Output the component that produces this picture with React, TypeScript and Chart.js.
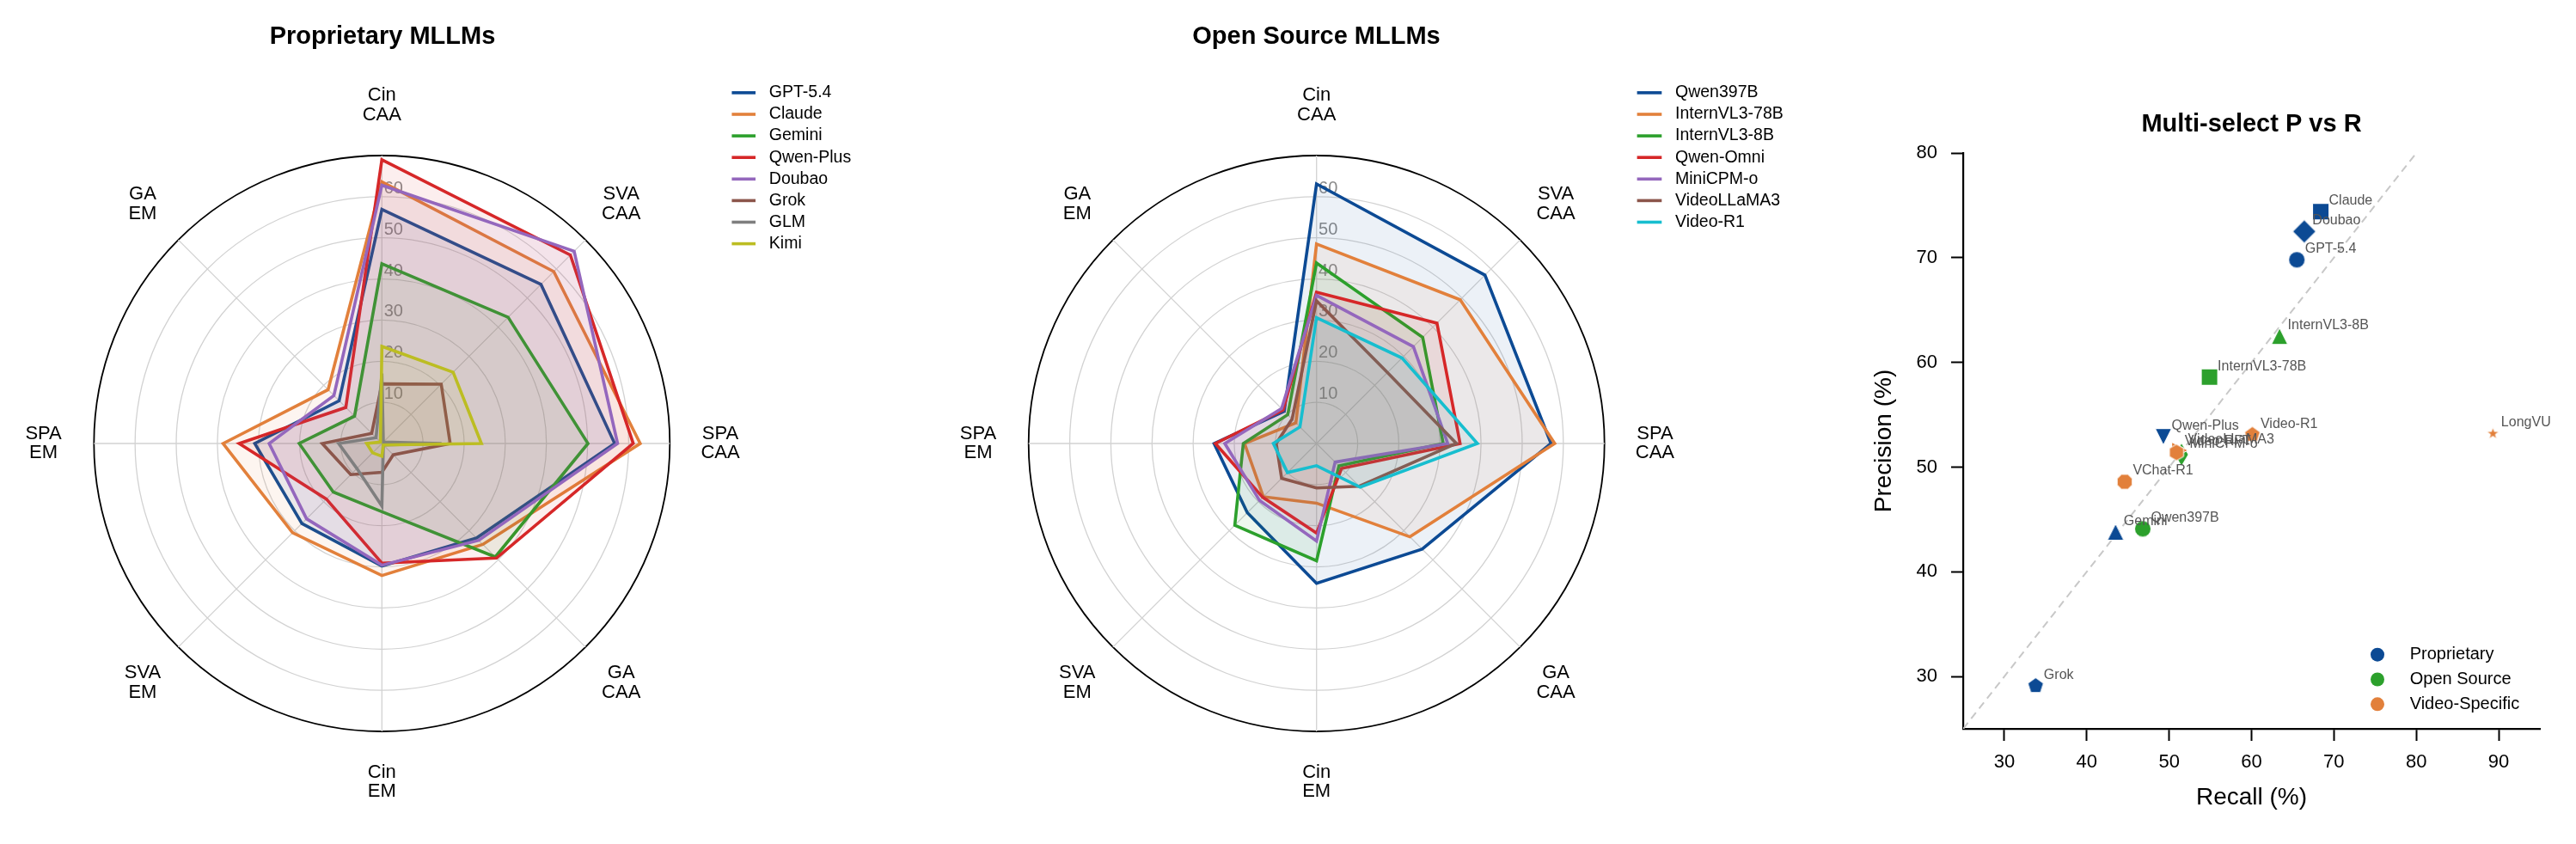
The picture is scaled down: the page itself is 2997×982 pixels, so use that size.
import React, { useEffect, useRef } from 'react';
import { Chart, registerables } from 'chart.js';

Chart.register(...registerables);

const FONT = "'Liberation Sans', Arial, Helvetica, sans-serif";

// ---------------- Radar data ----------------
const radarAxes = [['Cin', 'CAA'], ['SVA', 'CAA'], ['SPA', 'CAA'], ['GA', 'CAA'], ['Cin', 'EM'], ['SVA', 'EM'], ['SPA', 'EM'], ['GA', 'EM']];
const radialTicks = [10, 20, 30, 40, 50, 60];

const proprietaryModels = ['GPT-5.4', 'Claude', 'Gemini', 'Qwen-Plus', 'Doubao', 'Grok', 'GLM', 'Kimi'];
const gpt54 = [56.9, 54.7, 56.6, 32.5, 29.8, 27.5, 30.9, 14.7];
const claude = [63.6, 59.1, 62.8, 34.7, 32.1, 30.7, 38.6, 18.5];
const gemini = [43.7, 43.4, 50.1, 39.0, 16.6, 16.7, 20.1, 9.4];
const qwenPlus = [69.0, 64.8, 61.1, 39.4, 29.1, 19.1, 34.7, 12.4];
const doubao = [62.8, 66.1, 57.3, 33.3, 29.6, 25.9, 27.4, 16.5];
const grok = [14.5, 20.4, 16.6, 3.9, 7.0, 10.7, 14.5, 3.5];
const glm = [17.0, 0.5, 14.5, 0.5, 15.2, 8.6, 10.5, 2.0];
const kimi = [23.6, 24.5, 24.2, 0.5, 3.1, 3.2, 3.7, 0.5];
const proprietarySeries = [gpt54, claude, gemini, qwenPlus, doubao, grok, glm, kimi];

const openModels = ['Qwen397B', 'InternVL3-78B', 'InternVL3-8B', 'Qwen-Omni', 'MiniCPM-o', 'VideoLLaMA3', 'Video-R1'];
const qwen397b = [63.1, 57.9, 57.0, 36.3, 34.0, 23.8, 24.9, 11.1];
const internvl78 = [48.5, 49.4, 57.9, 32.1, 14.5, 18.3, 17.5, 7.1];
const internvl8 = [43.9, 36.5, 30.8, 7.7, 28.5, 28.1, 17.8, 9.9];
const qwenOmni = [36.8, 41.4, 34.9, 8.6, 21.8, 18.5, 24.6, 11.5];
const minicpm = [36.0, 33.3, 31.9, 6.4, 23.7, 19.6, 22.3, 12.0];
const videollama3 = [34.7, 24.4, 34.0, 14.7, 10.8, 12.0, 9.8, 8.4];
const videoR1 = [30.6, 29.4, 39.1, 15.0, 5.4, 10.0, 10.5, 5.7];
const openSeries = [qwen397b, internvl78, internvl8, qwenOmni, minicpm, videollama3, videoR1];

// ---------------- Scatter data ----------------
const recallTicks = [30, 40, 50, 60, 70, 80, 90];
const precisionTicks = [30, 40, 50, 60, 70, 80];
const diagonal = [25, 80];

const propNames = ['GPT-5.4', 'Claude', 'Gemini', 'Qwen-Plus', 'Doubao', 'Grok'];
const propRecall = [65.5, 68.4, 43.5, 49.3, 66.4, 33.8];
const propPrecision = [69.8, 74.4, 43.8, 52.9, 72.5, 29.1];
const propMarkers = ['circle', 'square', 'triangleUp', 'triangleDown', 'diamond', 'pentagon'];

const openNames = ['Qwen397B', 'InternVL3-78B', 'InternVL3-8B', 'MiniCPM-o'];
const openRecall = [46.8, 54.9, 63.4, 51.5];
const openPrecision = [44.1, 58.6, 62.5, 51.2];
const openMarkers = ['circle', 'square', 'triangleUp', 'thinDiamond'];

const videoNames = ['Video-R1', 'LongVU', 'VChat-R1', 'VideoLLaMA3', 'Video-RFT'];
const videoRecall = [60.1, 89.3, 44.6, 51.3, 50.9];
const videoPrecision = [53.1, 53.2, 48.6, 51.6, 51.4];
const videoMarkers = ['pentagon', 'star', 'octagon', 'triangleRight', 'hexagon'];

// ---------------- Styles ----------------
const COL = {
  blue: '#0c4a94', orange: '#e2803b', green: '#2ca02c', red: '#d62728', purple: '#9467bd',
  brown: '#8c564b', gray: '#7f7f7f', olive: '#bcbd22', cyan: '#17becf',
};
const proprietaryColors = [COL.blue, COL.orange, COL.green, COL.red, COL.purple, COL.brown, COL.gray, COL.olive];
const openColors = [COL.blue, COL.orange, COL.green, COL.red, COL.purple, COL.brown, COL.cyan];

function rgba(hex: string, a: number) {
  const n = parseInt(hex.slice(1), 16);
  return `rgba(${(n >> 16) & 255},${(n >> 8) & 255},${n & 255},${a})`;
}

type Geom = {
  cx: number; cy: number; R: number; labelR: number;
  legX0: number; legX1: number; legTextX: number; legY0: number; legDy: number;
  titleX: number; titleY: number; title: string;
};

function radarConfig(models: string[], series: number[][], colors: string[], g: Geom): any {
  const plugin = {
    id: 'radarDecor',
    afterLayout(chart: any) {
      const s = chart.scales.r;
      s.xCenter = g.cx;
      s.yCenter = g.cy;
      s.drawingArea = g.R;
    },
    beforeDatasetsDraw(chart: any) {
      const s = chart.scales.r;
      const ctx = chart.ctx;
      ctx.save();
      ctx.font = `20px ${FONT}`;
      ctx.fillStyle = '#8a8a8a';
      ctx.textAlign = 'left';
      ctx.textBaseline = 'middle';
      radialTicks.forEach((v) => {
        const d = s.getDistanceFromCenterForValue(v);
        ctx.fillText(String(v), s.xCenter + 2.4, s.yCenter - d - 9.5);
      });
      ctx.restore();
    },
    afterDraw(chart: any) {
      const s = chart.scales.r;
      const ctx = chart.ctx;
      ctx.save();
      ctx.font = `22px ${FONT}`;
      ctx.fillStyle = '#000';
      ctx.textAlign = 'center';
      ctx.textBaseline = 'middle';
      radarAxes.forEach((lines, i) => {
        const p = s.getPointPosition(i, g.labelR);
        ctx.fillText(lines[0], p.x, p.y - 11.25);
        ctx.fillText(lines[1], p.x, p.y + 11.25);
      });
      ctx.font = `19.5px ${FONT}`;
      ctx.textAlign = 'left';
      models.forEach((m, i) => {
        const y = g.legY0 + i * g.legDy;
        ctx.strokeStyle = colors[i];
        ctx.lineWidth = 3.6;
        ctx.beginPath();
        ctx.moveTo(g.legX0, y);
        ctx.lineTo(g.legX1, y);
        ctx.stroke();
        ctx.fillStyle = '#000';
        ctx.fillText(m, g.legTextX, y);
      });
      ctx.font = `bold 29px ${FONT}`;
      ctx.textAlign = 'center';
      ctx.textBaseline = 'alphabetic';
      ctx.fillText(g.title, g.titleX, g.titleY);
      ctx.restore();
    },
  };
  return {
    type: 'radar',
    data: {
      labels: radarAxes.map((a) => a.join(' ')),
      datasets: models.map((m, i) => ({
        label: m,
        data: series[i],
        borderColor: colors[i],
        backgroundColor: rgba(colors[i], 0.08),
        borderWidth: 3.6,
        pointRadius: 0,
        pointHoverRadius: 0,
        fill: true,
        tension: 0,
        order: models.length - i,
      })),
    },
    options: {
      responsive: false,
      animation: false,
      devicePixelRatio: 1,
      events: [],
      layout: { padding: 0 },
      plugins: { legend: { display: false }, tooltip: { enabled: false }, title: { display: false } },
      scales: {
        r: {
          min: 0,
          max: 70,
          ticks: { display: false, stepSize: 10 },
          pointLabels: { display: false },
          grid: {
            circular: true,
            color: (c: any) => (c.tick && c.tick.value === 70 ? '#000000' : '#d2d2d2'),
            lineWidth: (c: any) => (c.tick && c.tick.value === 70 ? 1.8 : 1.3),
          },
          angleLines: { color: '#d2d2d2', lineWidth: 1.3 },
        },
      },
    },
    plugins: [plugin],
  };
}

function makeMarker(shape: string, color: string, size = 19): HTMLCanvasElement {
  const s = 40;
  const c = document.createElement('canvas');
  c.width = s;
  c.height = s;
  const ctx = c.getContext('2d')!;
  ctx.translate(s / 2, s / 2);
  const r = size / 2;
  const poly = (pts: number[][]) => {
    ctx.beginPath();
    pts.forEach((p, i) => (i === 0 ? ctx.moveTo(p[0], p[1]) : ctx.lineTo(p[0], p[1])));
    ctx.closePath();
  };
  const regular = (n: number, rad: number, rot: number) => {
    const pts: number[][] = [];
    for (let i = 0; i < n; i++) {
      const a = -Math.PI / 2 + rot + (i * 2 * Math.PI) / n;
      pts.push([rad * Math.cos(a), rad * Math.sin(a)]);
    }
    poly(pts);
  };
  const d = r * Math.SQRT2;
  switch (shape) {
    case 'circle':
      ctx.beginPath();
      ctx.arc(0, 0, r, 0, Math.PI * 2);
      break;
    case 'square':
      poly([[-r, -r], [r, -r], [r, r], [-r, r]]);
      break;
    case 'diamond':
      poly([[0, -d], [d, 0], [0, d], [-d, 0]]);
      break;
    case 'thinDiamond':
      poly([[0, -d], [d * 0.6, 0], [0, d], [-d * 0.6, 0]]);
      break;
    case 'triangleUp':
      poly([[0, -r], [r, r], [-r, r]]);
      break;
    case 'triangleDown':
      poly([[0, r], [-r, -r], [r, -r]]);
      break;
    case 'triangleRight':
      poly([[r, 0], [-r, r], [-r, -r]]);
      break;
    case 'pentagon':
      regular(5, r, 0);
      break;
    case 'hexagon':
      regular(6, r, 0);
      break;
    case 'octagon':
      regular(8, r, Math.PI / 8);
      break;
    case 'star': {
      const ro = 7.8;
      const ri = ro * 0.381966;
      const pts: number[][] = [];
      for (let i = 0; i < 10; i++) {
        const a = -Math.PI / 2 + (i * Math.PI) / 5;
        const rr = i % 2 === 0 ? ro : ri;
        pts.push([rr * Math.cos(a), rr * Math.sin(a)]);
      }
      poly(pts);
      break;
    }
    default:
      ctx.beginPath();
      ctx.arc(0, 0, r, 0, Math.PI * 2);
  }
  ctx.fillStyle = color;
  ctx.fill();
  ctx.strokeStyle = '#ffffff';
  ctx.lineWidth = 1;
  ctx.stroke();
  return c;
}

function scatterConfig(): any {
  const groups = [
    { label: 'Proprietary', color: COL.blue, names: propNames, recall: propRecall, precision: propPrecision, markers: propMarkers, order: 3 },
    { label: 'Open Source', color: COL.green, names: openNames, recall: openRecall, precision: openPrecision, markers: openMarkers, order: 2 },
    { label: 'Video-Specific', color: COL.orange, names: videoNames, recall: videoRecall, precision: videoPrecision, markers: videoMarkers, order: 1 },
  ];
  const datasets: any[] = groups.map((g) => ({
    type: 'scatter',
    label: g.label,
    data: g.names.map((_, i) => ({ x: g.recall[i], y: g.precision[i] })),
    pointStyle: g.markers.map((m) => makeMarker(m, g.color)),
    pointRadius: 9,
    pointHoverRadius: 9,
    backgroundColor: g.color,
    borderWidth: 0,
    order: g.order,
  }));
  datasets.push({
    type: 'line',
    label: 'y = x',
    data: diagonal.map((v) => ({ x: v, y: v })),
    borderColor: '#c8c8c8',
    borderWidth: 2,
    borderDash: [9, 6],
    pointRadius: 0,
    fill: false,
    order: 10,
  });

  const plugin = {
    id: 'scatterDecor',
    afterDatasetsDraw(chart: any) {
      const ctx = chart.ctx;
      ctx.save();
      ctx.font = `16px ${FONT}`;
      ctx.fillStyle = '#555555';
      ctx.textAlign = 'left';
      ctx.textBaseline = 'middle';
      groups.forEach((g, gi) => {
        const meta = chart.getDatasetMeta(gi);
        meta.data.forEach((el: any, j: number) => {
          ctx.fillText(g.names[j], el.x + 9.5, el.y - 12.5);
        });
      });
      ctx.restore();
    },
    afterDraw(chart: any) {
      const ctx = chart.ctx;
      ctx.save();
      ctx.font = `20px ${FONT}`;
      ctx.textAlign = 'left';
      ctx.textBaseline = 'middle';
      groups.forEach((g, i) => {
        const y = 761.7 + i * 28.8;
        ctx.fillStyle = g.color;
        ctx.beginPath();
        ctx.arc(666, y, 8, 0, Math.PI * 2);
        ctx.fill();
        ctx.fillStyle = '#000';
        ctx.fillText(g.label, 703.7, y);
      });
      ctx.font = `bold 29px ${FONT}`;
      ctx.textAlign = 'center';
      ctx.textBaseline = 'alphabetic';
      ctx.fillStyle = '#000';
      ctx.fillText('Multi-select P vs R', 519.5, 152.7);
      ctx.restore();
    },
  };

  const tickFont = { size: 22, family: FONT };
  return {
    type: 'scatter',
    data: { datasets },
    options: {
      responsive: false,
      animation: false,
      devicePixelRatio: 1,
      events: [],
      layout: { padding: { left: 60, right: 42, top: 178, bottom: 34 } },
      plugins: { legend: { display: false }, tooltip: { enabled: false }, title: { display: false } },
      scales: {
        x: {
          type: 'linear',
          min: 25,
          max: 95,
          afterBuildTicks: (s: any) => { s.ticks = recallTicks.map((v) => ({ value: v })); },
          afterFit: (s: any) => { s.height = 100; },
          ticks: { font: tickFont, color: '#000', padding: 12, maxRotation: 0 },
          grid: { display: true, drawOnChartArea: false, drawTicks: true, tickLength: 14, tickWidth: 2, tickColor: '#000' },
          border: { display: true, color: '#000', width: 2.2 },
          title: { display: true, text: 'Recall (%)', color: '#000', font: { size: 28, family: FONT }, padding: { top: 0, bottom: 3 } },
        },
        y: {
          type: 'linear',
          min: 25,
          max: 80,
          afterBuildTicks: (s: any) => { s.ticks = precisionTicks.map((v) => ({ value: v })); },
          afterFit: (s: any) => { s.width = 124; },
          ticks: { font: tickFont, color: '#000', padding: 16 },
          grid: { display: true, drawOnChartArea: false, drawTicks: true, tickLength: 14, tickWidth: 2, tickColor: '#000' },
          border: { display: true, color: '#000', width: 2.2 },
          title: { display: true, text: 'Precision (%)', color: '#000', font: { size: 28, family: FONT }, padding: { top: 15, bottom: 0 } },
        },
      },
    },
    plugins: [plugin],
  };
}

function ChartCanvas({ left, width, build }: { left: number; width: number; build: () => any }) {
  const ref = useRef<HTMLCanvasElement>(null);
  useEffect(() => {
    const chart = new Chart(ref.current as HTMLCanvasElement, build());
    return () => chart.destroy();
  }, []);
  return (
    <canvas
      ref={ref}
      width={width}
      height={982}
      style={{ position: 'absolute', left, top: 0, width, height: 982 }}
    />
  );
}

const geom1: Geom = {
  cx: 444.3, cy: 516, R: 335, labelR: 393.7,
  legX0: 851.4, legX1: 879, legTextX: 894.8, legY0: 107.9, legDy: 25.1,
  titleX: 445, titleY: 51, title: 'Proprietary MLLMs',
};
const geom2: Geom = {
  cx: 481.7, cy: 516, R: 335, labelR: 393.7,
  legX0: 854.6, legX1: 883.3, legTextX: 899, legY0: 107.9, legDy: 25.1,
  titleX: 481.5, titleY: 51, title: 'Open Source MLLMs',
};

export default function App() {
  return (
    <div style={{ position: 'absolute', left: 0, top: 0, width: 2997, height: 982, background: '#ffffff', overflow: 'hidden' }}>
      <ChartCanvas left={0} width={1050} build={() => radarConfig(proprietaryModels, proprietarySeries, proprietaryColors, geom1)} />
      <ChartCanvas left={1050} width={1050} build={() => radarConfig(openModels, openSeries, openColors, geom2)} />
      <ChartCanvas left={2100} width={897} build={scatterConfig} />
    </div>
  );
}
